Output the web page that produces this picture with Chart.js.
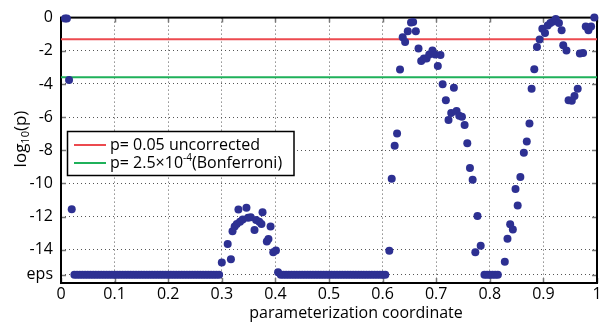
<!DOCTYPE html>
<html><head><meta charset="utf-8">
<script src="https://cdn.jsdelivr.net/npm/chart.js@4/dist/chart.umd.min.js"></script>
<style>html,body{margin:0;padding:0;background:#fff}#wrap{width:607px;height:324px}</style>
</head><body><div id="wrap"><canvas id="c" width="607" height="324"></canvas></div>
<script>
// ---- data ----
const EPS_LEVEL = -15.5;   // where "eps" (p at machine precision) is plotted

// points with p above eps
const sigCoords = [0.0075,0.011,0.015,0.020,
  0.300,0.311,0.317,0.320,0.324,0.328,0.331,0.334,0.339,0.346,0.349,0.354,0.361,0.364,0.370,0.374,0.376,0.384,0.387,0.391,0.396,0.401,0.405,
  0.6125,0.617,0.6225,0.627,0.6325,0.6375,0.642,0.647,0.653,0.657,0.662,0.667,0.672,0.677,0.682,0.687,0.693,0.698,0.703,0.708,0.712,0.718,0.723,0.728,0.733,0.738,0.743,0.748,0.753,0.758,0.763,0.768,0.773,0.777,0.783,
  0.828,0.833,0.838,0.843,0.848,0.852,0.857,0.8635,0.869,0.874,0.878,0.883,0.888,0.893,0.898,0.903,0.908,0.913,0.918,0.923,0.929,0.934,0.937,0.943,0.947,0.953,0.958,0.964,0.968,0.974,0.979,0.984,0.989,0.995];
const sigLogP = [-0.05,-0.05,-3.76,-11.55,
  -14.77,-13.65,-14.57,-12.88,-12.60,-12.44,-11.57,-12.30,-12.17,-11.47,-12.06,-12.04,-12.80,-12.20,-12.30,-12.44,-11.74,-13.50,-13.34,-12.60,-14.14,-14.04,-15.35,
  -14.06,-9.71,-7.72,-6.99,-3.13,-1.19,-1.47,-0.83,-0.29,-0.27,-0.83,-1.86,-2.62,-2.46,-2.46,-2.22,-1.98,-2.22,-2.92,-2.26,-4.02,-4.98,-6.17,-5.75,-4.23,-5.63,-5.92,-5.98,-6.47,-7.57,-9.07,-9.77,-14.15,-11.96,-13.75,
  -14.72,-13.33,-12.46,-12.77,-10.33,-11.33,-9.61,-8.15,-7.47,-6.39,-4.29,-3.12,-1.77,-1.32,-0.67,-0.93,-0.47,-0.33,-0.23,-0.09,-0.33,-0.77,-1.67,-1.99,-4.98,-5.02,-4.72,-4.29,-2.17,-2.14,-0.54,-0.77,-0.54,0.01];

// coordinates whose p is at eps
const epsCoords = [0.025,0.03,0.035,0.04,0.045,0.05,0.055,0.06,0.065,0.07,0.075,0.08,0.085,0.09,0.095,0.1,0.105,0.11,0.115,0.12,0.125,0.13,0.135,0.14,0.145,0.15,0.155,0.16,0.165,0.17,0.175,0.18,0.185,0.19,0.195,0.2,0.205,0.21,0.215,0.22,0.225,0.23,0.235,0.24,0.245,0.25,0.255,0.26,0.265,0.27,0.275,0.28,0.285,0.29,0.295,
  0.41,0.415,0.42,0.425,0.43,0.435,0.44,0.445,0.45,0.455,0.46,0.465,0.47,0.475,0.48,0.485,0.49,0.495,0.5,0.505,0.51,0.515,0.52,0.525,0.53,0.535,0.54,0.545,0.55,0.555,0.56,0.565,0.57,0.575,0.58,0.585,0.59,0.595,0.6,0.605,
  0.79,0.795,0.8,0.805,0.81,0.815];

const thresholdP = [0.05, 2.5e-4];
const thresholdColors = ['#ec4a4f', '#1fb15a'];

const xTicks = [0,0.1,0.2,0.3,0.4,0.5,0.6,0.7,0.8,0.9,1];
const xTickLabels = ['0','0.1','0.2','0.3','0.4','0.5','0.6','0.7','0.8','0.9','1'];
const yTicks = [-15.5,-14,-12,-10,-8,-6,-4,-2,0];
const yTickLabels = ['eps','-14','-12','-10','-8','-6','-4','-2','0'];
const xTitle = 'parameterization coordinate';

// ---- build ----
const FONT = "'Open Sans', 'DejaVu Sans', sans-serif";
const FS = 16;
const pts = sigCoords.map((x,i)=>({x, y: sigLogP[i]})).concat(epsCoords.map(x=>({x, y: EPS_LEVEL})));
const thrY = thresholdP.map(p=>Math.log10(p));

const framePlugin = {
  id:'frame',
  beforeDatasetsDraw(chart){
    const {ctx, chartArea:a, scales} = chart;
    ctx.save();
    ctx.strokeStyle = '#777'; ctx.lineWidth = 1.5;
    ctx.beginPath();
    yTicks.forEach(v=>{const p = Math.round(scales.y.getPixelForValue(v))+0.5;
      ctx.moveTo(a.left, p); ctx.lineTo(a.left+5, p);
      ctx.moveTo(a.right-5, p); ctx.lineTo(a.right, p);});
    xTicks.forEach(v=>{const p = Math.round(scales.x.getPixelForValue(v))+0.5;
      ctx.moveTo(p, a.bottom); ctx.lineTo(p, a.bottom-5);
      ctx.moveTo(p, a.top); ctx.lineTo(p, a.top+5);});
    ctx.stroke();
    ctx.strokeStyle = '#000'; ctx.lineWidth = 2;
    ctx.strokeRect(a.left, a.top, a.right-a.left, a.bottom-a.top);
    ctx.restore();
  }
};

const legendPlugin = {
  id:'customLegend',
  afterDraw(chart){
    const ctx = chart.ctx;
    ctx.save();
    const bx = 67.5, by = 131.5, bw = 226.5, bh = 44;
    ctx.fillStyle = '#fff'; ctx.fillRect(bx, by, bw, bh);
    ctx.strokeStyle = '#000'; ctx.lineWidth = 1.5; ctx.strokeRect(bx, by, bw, bh);
    const rows = [145, 163];
    ctx.lineWidth = 2;
    rows.forEach((ry,i)=>{
      ctx.strokeStyle = thresholdColors[i];
      ctx.beginPath(); ctx.moveTo(74, ry); ctx.lineTo(106, ry); ctx.stroke();
    });
    ctx.fillStyle = '#000'; ctx.textBaseline = 'middle'; ctx.textAlign = 'left';
    ctx.font = FS + 'px ' + FONT;
    ctx.fillText('p= 0.05 uncorrected', 110, rows[0]);
    let x = 110;
    const s1 = 'p= 2.5\u00d710';
    ctx.fillText(s1, x, rows[1]); x += ctx.measureText(s1).width;
    ctx.font = '10px ' + FONT;
    ctx.fillText('-4', x, rows[1]-5); x += ctx.measureText('-4').width;
    ctx.font = FS + 'px ' + FONT;
    ctx.fillText('(Bonferroni)', x, rows[1]);
    ctx.restore();
  }
};

const titlesPlugin = {
  id:'axisTitles',
  afterDraw(chart){
    const ctx = chart.ctx;
    ctx.save();
    ctx.fillStyle = '#000'; ctx.textBaseline = 'middle';
    // x title
    ctx.font = FS + 'px ' + FONT; ctx.textAlign = 'center';
    ctx.fillText(xTitle, 356, 313);
    // y title with subscript
    ctx.textAlign = 'left';
    ctx.translate(21, 139);
    ctx.rotate(-Math.PI/2);
    const big = '17px ' + FONT, small = '11px ' + FONT;
    ctx.font = big; const w1 = ctx.measureText('log').width, w3 = ctx.measureText('(p)').width;
    ctx.font = small; const w2 = ctx.measureText('10').width;
    let x = -(w1+w2+w3)/2;
    ctx.font = big; ctx.fillText('log', x, 0); x += w1;
    ctx.font = small; ctx.fillText('10', x, 5); x += w2;
    ctx.font = big; ctx.fillText('(p)', x, 0);
    ctx.restore();
  }
};

new Chart(document.getElementById('c'), {
  type:'scatter',
  data:{datasets:[
    {label:'log10(p)', data: pts, backgroundColor:'#2d3092', borderWidth:0, pointRadius:4, pointHoverRadius:4, clip:false, order:0},
    {type:'line', label:'p= 0.05 uncorrected', data:[{x:0,y:thrY[0]},{x:1,y:thrY[0]}], borderColor:thresholdColors[0], borderWidth:2, pointRadius:0, fill:false, order:1},
    {type:'line', label:'p= 2.5x10-4 (Bonferroni)', data:[{x:0,y:thrY[1]},{x:1,y:thrY[1]}], borderColor:thresholdColors[1], borderWidth:2, pointRadius:0, fill:false, order:2}
  ]},
  options:{
    responsive:false, animation:false, events:[],
    layout:{padding:{left:0,right:10,top:16,bottom:0}},
    plugins:{legend:{display:false}, tooltip:{enabled:false}},
    scales:{
      x:{type:'linear', min:0, max:1,
        afterBuildTicks: s=>{ s.ticks = xTicks.map(v=>({value:v})); },
        afterFit: s=>{ s.height = 41; },
        ticks:{callback:(v)=>xTickLabels[xTicks.indexOf(v)], font:{family:FONT, size:FS}, color:'#000', padding:2, maxRotation:0, autoSkip:false},
        grid:{color:'#555', lineWidth:1, drawTicks:false},
        border:{display:false, dash:[1,3]},
        title:{display:false}
      },
      y:{type:'linear', min:-16, max:0,
        afterBuildTicks: s=>{ s.ticks = yTicks.map(v=>({value:v})); },
        afterFit: s=>{ s.width = 61; },
        ticks:{callback:(v)=>yTickLabels[yTicks.indexOf(v)], font:{family:FONT, size:FS}, color:'#000', padding:8, autoSkip:false},
        grid:{color:'#555', lineWidth:1, drawTicks:false},
        border:{display:false, dash:[1,3]}
      }
    }
  },
  plugins:[framePlugin, legendPlugin, titlesPlugin]
});
</script></body></html>
